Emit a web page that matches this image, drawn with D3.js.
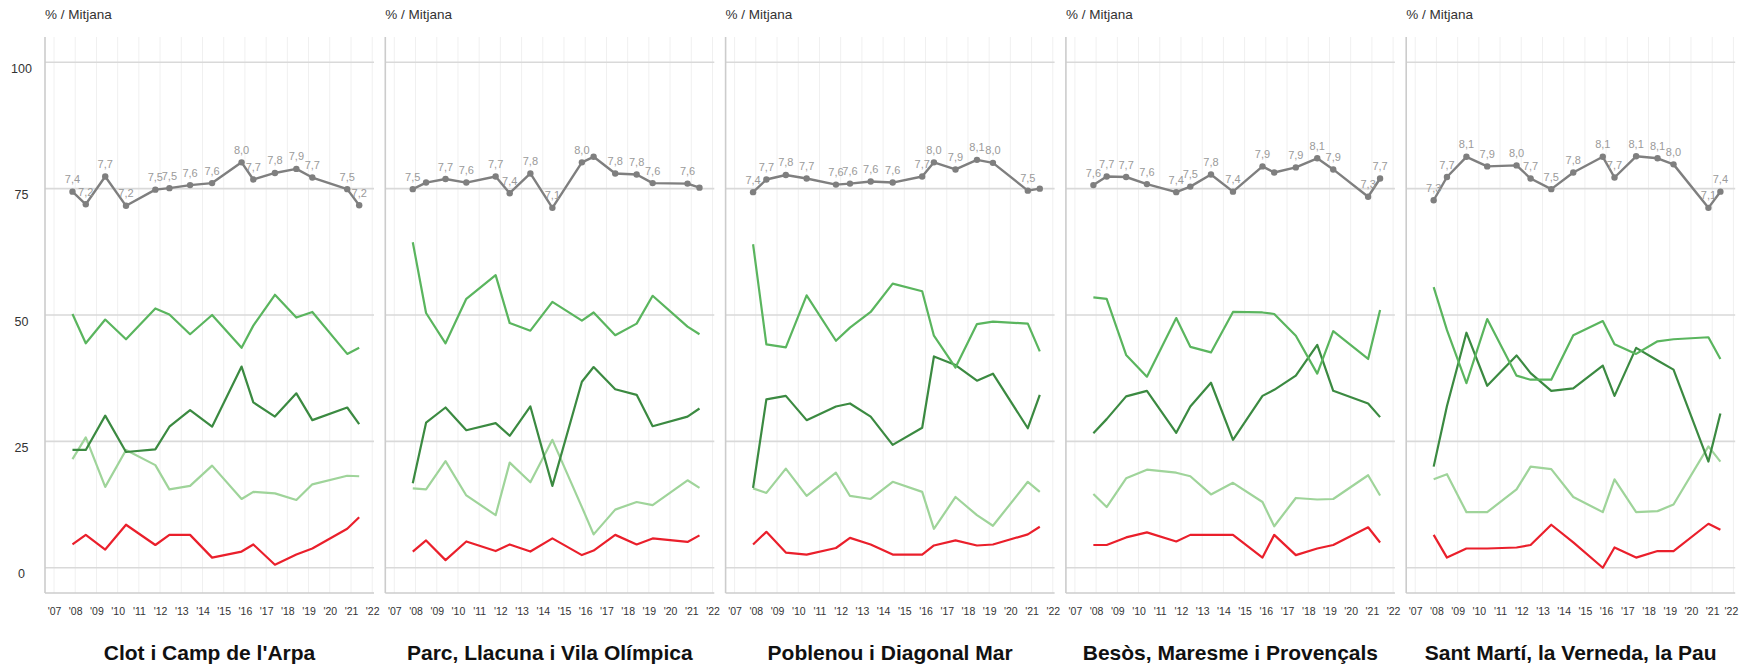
<!DOCTYPE html>
<html>
<head>
<meta charset="utf-8">
<script src="https://cdn.jsdelivr.net/npm/d3@7"></script>
<style>
  body { margin: 0; background: #fff; }
  svg text { font-family: "Liberation Sans", Arial, sans-serif; }
</style>
</head>
<body>
<svg width="1739" height="666"></svg>
<script>
// Districtes (one panel each)
const districts = ["Clot i Camp de l'Arpa", "Parc, Llacuna i Vila Olímpica", "Poblenou i Diagonal Mar",
  "Besòs, Maresme i Provençals", "Sant Martí, la Verneda, la Pau"];

// survey dates
const dates = ["2007-11-15", "2008-07-01", "2009-06-01", "2010-05-25", "2011-10-12", "2012-06-10",
  "2013-06-01", "2014-06-15", "2015-11-05", "2016-05-25", "2017-06-01", "2018-06-05",
  "2019-03-07", "2020-10-28", "2021-05-22"];

// Mitjana (0-10), drawn on the 0-100 scale
const mitjana = [
  [7.44, 7.19, 7.74, 7.16, 7.48, 7.51, 7.57, 7.61, 8.02, 7.68, 7.81, 7.89, 7.72, 7.49, 7.17],
  [7.49, 7.62, 7.69, 7.62, 7.74, 7.41, 7.80, 7.12, 8.02, 8.13, 7.80, 7.78, 7.61, 7.60, 7.52],
  [7.43, 7.68, 7.77, 7.70, 7.58, 7.60, 7.64, 7.62, 7.74, 8.02, 7.88, 8.07, 8.01, 7.46, 7.50],
  [7.57, 7.74, 7.73, 7.59, 7.43, 7.54, 7.78, 7.44, 7.94, 7.82, 7.92, 8.10, 7.88, 7.34, 7.70],
  [7.27, 7.73, 8.13, 7.94, 7.96, 7.70, 7.49, 7.82, 8.13, 7.72, 8.14, 8.10, 7.98, 7.12, 7.44]
];
// points whose value label is not shown
const hiddenLabels = [[], [1, 9, 14], [14], [9], []];

const greenMid = [
  [50.2, 44.4, 49.1, 45.2, 51.3, 50.1, 46.2, 50.0, 43.5, 47.9, 54.0, 49.5, 50.6, 42.3, 43.5],
  [64.4, 50.4, 44.4, 53.2, 57.9, 48.4, 46.9, 52.6, 48.9, 50.5, 46.0, 48.3, 53.8, 47.7, 46.2],
  [64.0, 44.2, 43.6, 53.9, 44.9, 47.5, 50.6, 56.2, 54.7, 45.9, 39.6, 48.2, 48.7, 48.3, 42.8],
  [53.5, 53.2, 42.1, 37.8, 49.4, 43.7, 42.6, 50.6, 50.5, 50.2, 45.9, 38.4, 46.8, 41.3, 51.0],
  [55.5, 47.0, 36.5, 49.2, 38.0, 37.2, 37.2, 46.0, 48.8, 44.2, 42.3, 44.8, 45.2, 45.6, 41.3]
];
const greenDark = [
  [23.3, 23.3, 30.1, 22.9, 23.4, 27.9, 31.2, 27.9, 39.8, 32.7, 29.9, 34.5, 29.2, 31.7, 28.4],
  [16.7, 28.7, 31.7, 27.2, 28.6, 26.1, 31.9, 16.2, 36.8, 39.7, 35.3, 34.2, 28.0, 29.9, 31.5],
  [15.8, 33.3, 34.0, 29.2, 31.9, 32.5, 29.9, 24.3, 27.7, 41.8, 40.1, 37.0, 38.4, 27.6, 34.2],
  [26.6, 29.4, 33.9, 35.0, 26.7, 31.9, 36.6, 25.3, 34.0, 35.2, 38.0, 44.1, 35.0, 32.5, 29.8],
  [20.0, 32.0, 46.5, 36.0, 42.0, 38.5, 35.0, 35.5, 40.0, 34.0, 43.5, 41.0, 39.2, 21.0, 30.5]
];
const greenLight = [
  [21.5, 25.8, 16.0, 23.3, 20.3, 15.5, 16.2, 20.2, 13.6, 15.0, 14.7, 13.4, 16.5, 18.2, 18.1],
  [15.7, 15.5, 21.1, 14.3, 10.4, 20.8, 16.9, 25.3, 12.0, 6.6, 11.5, 13.0, 12.4, 17.3, 15.8],
  [15.7, 14.8, 19.6, 14.2, 18.8, 14.2, 13.6, 17.0, 15.0, 7.7, 14.0, 10.4, 8.3, 17.0, 15.0],
  [14.6, 12.0, 17.7, 19.4, 18.8, 18.1, 14.5, 16.8, 13.0, 8.2, 13.8, 13.5, 13.6, 18.3, 14.3],
  [17.5, 18.5, 11.0, 11.0, 15.5, 20.0, 19.5, 14.0, 11.0, 17.5, 11.0, 11.2, 12.5, 24.0, 21.0]
];
const red = [
  [4.6, 6.5, 3.6, 8.5, 4.5, 6.5, 6.5, 2.0, 3.2, 4.6, 0.6, 2.6, 3.8, 7.7, 10.0],
  [3.2, 5.4, 1.5, 5.2, 3.3, 4.6, 3.2, 5.8, 2.5, 3.4, 6.5, 4.6, 5.8, 5.1, 6.4],
  [4.6, 7.1, 3.0, 2.6, 3.9, 5.9, 4.6, 2.6, 2.6, 4.4, 5.4, 4.4, 4.6, 6.6, 8.1],
  [4.5, 4.5, 6.0, 7.0, 5.2, 6.5, 6.5, 6.5, 2.0, 6.5, 2.5, 3.8, 4.5, 8.0, 5.0],
  [6.5, 2.0, 3.8, 3.8, 4.0, 4.5, 8.5, 5.0, 0.0, 4.0, 2.0, 3.3, 3.3, 8.7, 7.5]
];

const yTicks = [0, 25, 50, 75, 100];

const svg = d3.select("svg");
const plotLeft = 45, plotTop = 37, plotW = 329, plotH = 556, panelStep = 340.3;

const parse = d3.timeParse("%Y-%m-%d");
const when = dates.map(parse);

const x = d3.scaleTime()
  .domain([new Date(2006, 6, 30), new Date(2022, 1, 1)])
  .range([0, plotW]);
const y = d3.scaleLinear().domain([-5, 105]).range([plotH, 0]);

const line = d3.line()
  .x((d, i) => x(when[i]))
  .y(d => y(d));

const fmt = v => v.toFixed(1).replace(".", ",");

const series = [
  { data: greenLight, color: "#9fd49a", width: 2.2 },
  { data: greenDark, color: "#3b8a41", width: 2.2 },
  { data: greenMid, color: "#5ab55e", width: 2.2 },
  { data: red, color: "#ea1f2b", width: 2.2 }
];

districts.forEach((name, p) => {
  const g = svg.append("g")
    .attr("transform", `translate(${plotLeft + p * panelStep},${plotTop})`);

  // vertical year grid
  g.append("g").selectAll("line")
    .data(d3.timeYear.range(new Date(2007, 0, 1), new Date(2022, 0, 2)))
    .join("line")
    .attr("x1", d => x(d)).attr("x2", d => x(d))
    .attr("y1", 0).attr("y2", plotH)
    .attr("stroke", "#f0f0f0").attr("stroke-width", 1);

  // horizontal grid
  g.append("g").selectAll("line")
    .data(yTicks)
    .join("line")
    .attr("x1", 0).attr("x2", plotW)
    .attr("y1", d => y(d)).attr("y2", d => y(d))
    .attr("stroke", "#d9d9d9").attr("stroke-width", 1.6);

  // axis frame (left + bottom)
  g.append("line").attr("x1", 0).attr("x2", 0).attr("y1", 0).attr("y2", plotH)
    .attr("stroke", "#cccccc").attr("stroke-width", 1.6);
  g.append("line").attr("x1", 0).attr("x2", plotW).attr("y1", plotH).attr("y2", plotH)
    .attr("stroke", "#cccccc").attr("stroke-width", 1.6);

  // x axis
  const xa = g.append("g")
    .attr("transform", `translate(0,${plotH})`)
    .call(d3.axisBottom(x)
      .ticks(d3.timeYear.every(1))
      .tickFormat(d3.timeFormat("'%y"))
      .tickSize(0)
      .tickPadding(14.5));
  xa.select(".domain").remove();
  xa.selectAll("text").attr("font-size", 10.5).attr("fill", "#333")
    .style("font-family", "'Liberation Sans', Arial, sans-serif");
  // keep the very last label inside the window
  if (p === districts.length - 1) {
    xa.selectAll(".tick:last-of-type text").attr("dx", -2.5);
  }

  // y labels only on the first panel
  if (p === 0) {
    g.append("g").selectAll("text")
      .data(yTicks)
      .join("text")
      .attr("x", -23.5)
      .attr("y", d => y(d) + 10.5)
      .attr("text-anchor", "middle")
      .attr("font-size", 12.5)
      .attr("fill", "#333")
      .text(d => d);
  }

  g.append("text")
    .attr("x", 0).attr("y", -18.5)
    .attr("font-size", 13.5).attr("fill", "#333")
    .text("% / Mitjana");

  // series
  series.forEach(s => {
    g.append("path")
      .attr("d", line(s.data[p]))
      .attr("fill", "none")
      .attr("stroke", s.color)
      .attr("stroke-width", s.width)
      .attr("stroke-linejoin", "round");
  });

  // mitjana line with dots and labels
  const m = mitjana[p].map(v => v * 10);
  g.append("path")
    .attr("d", line(m))
    .attr("fill", "none")
    .attr("stroke", "#7f7f7f")
    .attr("stroke-width", 2.4)
    .attr("stroke-linejoin", "round");
  g.append("g").selectAll("circle")
    .data(m)
    .join("circle")
    .attr("cx", (d, i) => x(when[i]))
    .attr("cy", d => y(d))
    .attr("r", 3.2)
    .attr("fill", "#7f7f7f");
  g.append("g").selectAll("text")
    .data(mitjana[p].map((v, i) => ({ v, i })).filter(d => !hiddenLabels[p].includes(d.i)))
    .join("text")
    .attr("x", d => x(when[d.i]))
    .attr("y", d => y(d.v * 10) - 8.5)
    .attr("text-anchor", "middle")
    .attr("font-size", 11)
    .attr("fill", "#9a9a9a")
    .text(d => fmt(d.v));

  g.append("text")
    .attr("x", plotW / 2)
    .attr("y", 623)
    .attr("text-anchor", "middle")
    .attr("font-size", 21)
    .attr("font-weight", "bold")
    .attr("fill", "#111")
    .text(name);
});
</script>
</body>
</html>
